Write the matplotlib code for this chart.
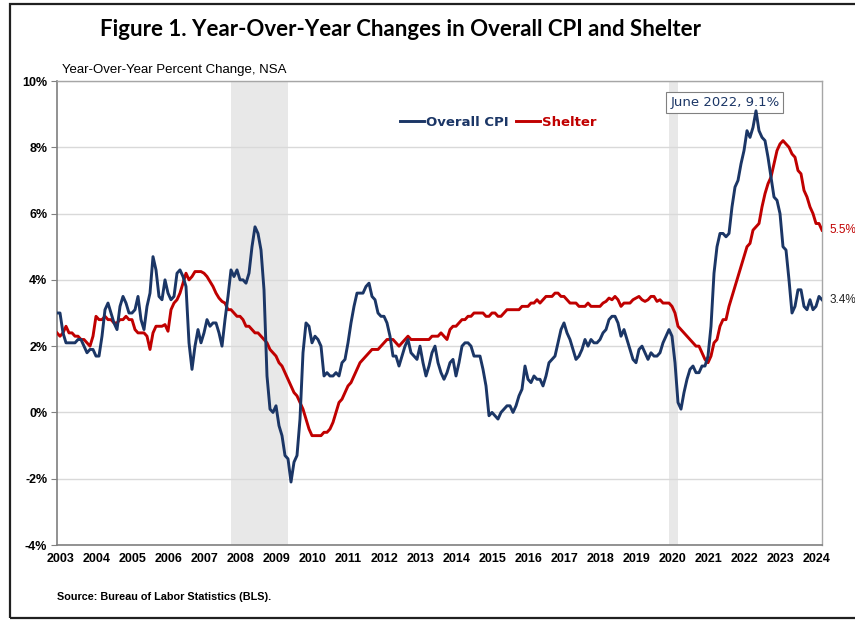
import numpy as np
import matplotlib
matplotlib.use("Agg")
import matplotlib.pyplot as plt
from matplotlib.patches import Rectangle

# monthly year-over-year % change, Jan 2003 - Apr 2024
cpi = [
    3.0, 3.0, 2.4, 2.1, 2.1, 2.1, 2.1, 2.2, 2.2, 2.0, 1.8, 1.9,  # 2003
    1.9, 1.7, 1.7, 2.3, 3.1, 3.3, 3.0, 2.7, 2.5, 3.2, 3.5, 3.3,  # 2004
    3.0, 3.0, 3.1, 3.5, 2.8, 2.5, 3.2, 3.6, 4.7, 4.3, 3.5, 3.4,  # 2005
    4.0, 3.6, 3.4, 3.5, 4.2, 4.3, 4.1, 3.8, 2.1, 1.3, 2.0, 2.5,  # 2006
    2.1, 2.4, 2.8, 2.6, 2.7, 2.7, 2.4, 2.0, 2.8, 3.5, 4.3, 4.1,  # 2007
    4.3, 4.0, 4.0, 3.9, 4.2, 5.0, 5.6, 5.4, 4.9, 3.7, 1.1, 0.1,  # 2008
    0.0, 0.2, -0.4, -0.7, -1.3, -1.4, -2.1, -1.5, -1.3, -0.2, 1.8, 2.7,  # 2009
    2.6, 2.1, 2.3, 2.2, 2.0, 1.1, 1.2, 1.1, 1.1, 1.2, 1.1, 1.5,  # 2010
    1.6, 2.1, 2.7, 3.2, 3.6, 3.6, 3.6, 3.8, 3.9, 3.5, 3.4, 3.0,  # 2011
    2.9, 2.9, 2.7, 2.3, 1.7, 1.7, 1.4, 1.7, 2.0, 2.2, 1.8, 1.7,  # 2012
    1.6, 2.0, 1.5, 1.1, 1.4, 1.8, 2.0, 1.5, 1.2, 1.0, 1.2, 1.5,  # 2013
    1.6, 1.1, 1.5, 2.0, 2.1, 2.1, 2.0, 1.7, 1.7, 1.7, 1.3, 0.8,  # 2014
    -0.1, 0.0, -0.1, -0.2, 0.0, 0.1, 0.2, 0.2, 0.0, 0.2, 0.5, 0.7,  # 2015
    1.4, 1.0, 0.9, 1.1, 1.0, 1.0, 0.8, 1.1, 1.5, 1.6, 1.7, 2.1,  # 2016
    2.5, 2.7, 2.4, 2.2, 1.9, 1.6, 1.7, 1.9, 2.2, 2.0, 2.2, 2.1,  # 2017
    2.1, 2.2, 2.4, 2.5, 2.8, 2.9, 2.9, 2.7, 2.3, 2.5, 2.2, 1.9,  # 2018
    1.6, 1.5, 1.9, 2.0, 1.8, 1.6, 1.8, 1.7, 1.7, 1.8, 2.1, 2.3,  # 2019
    2.5, 2.3, 1.5, 0.3, 0.1, 0.6, 1.0, 1.3, 1.4, 1.2, 1.2, 1.4,  # 2020
    1.4, 1.7, 2.6, 4.2, 5.0, 5.4, 5.4, 5.3, 5.4, 6.2, 6.8, 7.0,  # 2021
    7.5, 7.9, 8.5, 8.3, 8.6, 9.1, 8.5, 8.3, 8.2, 7.7, 7.1, 6.5,  # 2022
    6.4, 6.0, 5.0, 4.9, 4.0, 3.0, 3.2, 3.7, 3.7, 3.2, 3.1, 3.4,  # 2023
    3.1, 3.2, 3.5, 3.4,                                          # 2024
]
shelter = [
    2.4, 2.3, 2.4, 2.6, 2.4, 2.4, 2.3, 2.3, 2.2, 2.2, 2.1, 2.0,  # 2003
    2.3, 2.9, 2.8, 2.8, 2.9, 2.8, 2.8, 2.7, 2.7, 2.8, 2.8, 2.9,  # 2004
    2.8, 2.8, 2.5, 2.4, 2.4, 2.4, 2.3, 1.9, 2.4, 2.6, 2.6, 2.6,  # 2005
    2.65, 2.45, 3.1, 3.3, 3.4, 3.6, 3.9, 4.2, 4.0, 4.1, 4.25, 4.25,  # 2006
    4.25, 4.2, 4.1, 3.95, 3.8, 3.6, 3.45, 3.35, 3.3, 3.1, 3.1, 3.0,  # 2007
    2.9, 2.9, 2.8, 2.6, 2.6, 2.5, 2.4, 2.4, 2.3, 2.2, 2.1, 1.9,  # 2008
    1.8, 1.7, 1.5, 1.4, 1.2, 1.0, 0.8, 0.6, 0.5, 0.3, 0.1, -0.2,  # 2009
    -0.5, -0.7, -0.7, -0.7, -0.7, -0.6, -0.6, -0.5, -0.3, 0.0, 0.3, 0.4,  # 2010
    0.6, 0.8, 0.9, 1.1, 1.3, 1.5, 1.6, 1.7, 1.8, 1.9, 1.9, 1.9,  # 2011
    2.0, 2.1, 2.2, 2.2, 2.2, 2.1, 2.0, 2.1, 2.2, 2.3, 2.2, 2.2,  # 2012
    2.2, 2.2, 2.2, 2.2, 2.2, 2.3, 2.3, 2.3, 2.4, 2.3, 2.2, 2.5,  # 2013
    2.6, 2.6, 2.7, 2.8, 2.8, 2.9, 2.9, 3.0, 3.0, 3.0, 3.0, 2.9,  # 2014
    2.9, 3.0, 3.0, 2.9, 2.9, 3.0, 3.1, 3.1, 3.1, 3.1, 3.1, 3.2,  # 2015
    3.2, 3.2, 3.3, 3.3, 3.4, 3.3, 3.4, 3.5, 3.5, 3.5, 3.6, 3.6,  # 2016
    3.5, 3.5, 3.4, 3.3, 3.3, 3.3, 3.2, 3.2, 3.2, 3.3, 3.2, 3.2,  # 2017
    3.2, 3.2, 3.3, 3.35, 3.45, 3.4, 3.5, 3.4, 3.2, 3.3, 3.3, 3.3,  # 2018
    3.4, 3.45, 3.5, 3.4, 3.35, 3.4, 3.5, 3.5, 3.35, 3.4, 3.3, 3.3,  # 2019
    3.3, 3.2, 3.0, 2.6, 2.5, 2.4, 2.3, 2.2, 2.1, 2.0, 2.0, 1.8,  # 2020
    1.6, 1.5, 1.7, 2.1, 2.2, 2.6, 2.8, 2.8, 3.2, 3.5, 3.8, 4.1,  # 2021
    4.4, 4.7, 5.0, 5.1, 5.5, 5.6, 5.7, 6.2, 6.6, 6.9, 7.1, 7.5,  # 2022
    7.9, 8.1, 8.2, 8.1, 8.0, 7.8, 7.7, 7.3, 7.2, 6.7, 6.5, 6.2,  # 2023
    6.0, 5.7, 5.7, 5.5,                                          # 2024
]
years = list(range(2003, 2025))
recessions = [(2007.83, 2009.42), (2020.0, 2020.25)]

navy = "#1B3666"
red = "#C00000"
narrow = ["Liberation Sans Narrow", "Liberation Sans", "DejaVu Sans"]

t = 2003 + np.arange(len(cpi)) / 12.0

fig = plt.figure(figsize=(8.55, 6.22), dpi=100)
ax = fig.add_axes([57 / 855, 1 - 545 / 622, 765 / 855, 464 / 622])

for a, b in recessions:
    ax.axvspan(a, b, color="#E8E8E8", lw=0, zorder=0)

ax.plot(t, shelter, color=red, lw=2.1, label="Shelter", zorder=3)
ax.plot(t, cpi, color=navy, lw=2.1, label="Overall CPI", zorder=4)

ax.set_xlim(2003, 2024.25)
ax.set_ylim(-4, 10)
ax.set_yticks(np.arange(-4, 11, 2))
ax.set_yticklabels([f"{v}%" for v in range(-4, 11, 2)])
ax.set_xticks([y + 0.1 for y in years])
ax.set_xticklabels([str(y) for y in years])
ax.grid(axis="y", color="#D9D9D9", lw=1)
ax.set_axisbelow(True)
ax.tick_params(axis="x", length=0, pad=6)
ax.tick_params(axis="y", length=4, color="#808080", pad=3)
for lab in ax.get_xticklabels() + ax.get_yticklabels():
    lab.set_family(narrow)
    lab.set_fontweight("bold")
    lab.set_fontsize(9)
for s in ["left", "bottom"]:
    ax.spines[s].set_color("#7F7F7F")
    ax.spines[s].set_linewidth(1.2)
for s in ["top", "right"]:
    ax.spines[s].set_color("#A6A6A6")
    ax.spines[s].set_linewidth(1.0)

# legend (CPI first)
h, l = ax.get_legend_handles_labels()
leg = ax.legend(h[::-1], l[::-1], loc="upper center", bbox_to_anchor=(0.577, 0.951),
                ncol=2, frameon=False, handlelength=1.8, handletextpad=0.15,
                columnspacing=0.6, prop={"weight": "bold", "size": 9.5})
for txt, c in zip(leg.get_texts(), [navy, red]):
    txt.set_color(c)

# peak annotation
ax.annotate("June 2022, 9.1%", xy=(2022.42, 9.1), xytext=(2021.55, 9.35),
            ha="center", va="center", fontsize=9.5, color=navy,
            bbox=dict(boxstyle="square,pad=0.3", fc="white", ec="#808080", lw=0.8),
            arrowprops=dict(arrowstyle="-", color="#808080", lw=0.8))

# end labels
ax.text(2024.45, shelter[-1], f"{shelter[-1]}%", color=red, fontsize=8.5,
        va="center", ha="left", family=narrow, clip_on=False)
ax.text(2024.45, cpi[-1], f"{cpi[-1]}%", color="#222222", fontsize=8.5,
        va="center", ha="left", family=narrow, clip_on=False)

fig.text(400 / 855, 1 - 30 / 622, "Figure 1. Year-Over-Year Changes in Overall CPI and Shelter",
         ha="center", va="center", fontsize=16, fontweight="bold",
         family=["Lato", "DejaVu Sans"])
fig.text(62 / 855, 1 - 70 / 622, "Year-Over-Year Percent Change, NSA",
         ha="left", va="center", fontsize=9.5, family=narrow)
fig.text(57 / 855, 1 - 597 / 622, "Source: Bureau of Labor Statistics (BLS).",
         ha="left", va="center", fontsize=7.8, fontweight="bold", family=narrow)

fig.patches.append(Rectangle((10 / 855, 4 / 622), 1.0, 614 / 622, transform=fig.transFigure,
                             fill=False, ec="#202020", lw=1.6))

fig.savefig("out.png", dpi=100)
